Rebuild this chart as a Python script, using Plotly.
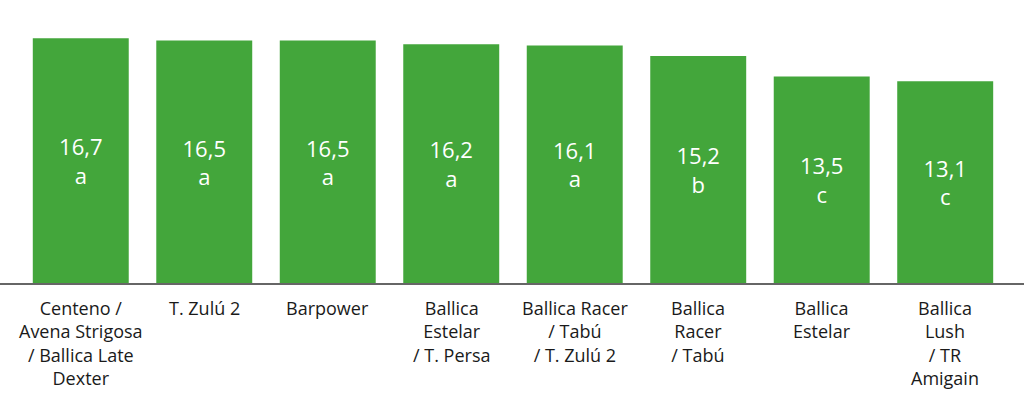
import plotly.graph_objects as go

categories = [
    "Centeno /<br>Avena Strigosa<br>/ Ballica Late<br>Dexter",
    "T. Zulú 2",
    "Barpower",
    "Ballica<br>Estelar<br>/ T. Persa",
    "Ballica Racer<br>/ Tabú<br>/ T. Zulú 2",
    "Ballica<br>Racer<br>/ Tabú",
    "Ballica<br>Estelar",
    "Ballica<br>Lush<br>/ TR<br>Amigain",
]
values = [16.7, 16.5, 16.5, 16.2, 16.1, 15.2, 13.5, 13.1]
letters = ["a", "a", "a", "a", "a", "b", "c", "c"]

BASE = -3.8
TOP = 19.9
GREEN = "#43A63B"
FONT = "Open Sans"

xs = list(range(len(categories)))
texts = [f"{v:.1f}".replace(".", ",") + "<br>" + l for v, l in zip(values, letters)]

fig = go.Figure()
fig.add_trace(go.Bar(
    x=xs,
    y=[v - BASE for v in values],
    base=BASE,
    marker=dict(color=GREEN, line=dict(width=0)),
    text=texts,
    textposition="inside",
    insidetextanchor="middle",
    textfont=dict(family=FONT, size=22, color="white"),
    hoverinfo="skip",
))

annotations = []
for i, lab in enumerate(categories):
    annotations.append(dict(
        x=i, y=0, xref="x", yref="paper",
        text=lab, showarrow=False,
        xanchor="center", yanchor="top", align="center",
        borderpad=0, yshift=-12,
        font=dict(family=FONT, size=18, color="#1a1a1a"),
    ))

fig.update_layout(
    width=1024, height=398,
    margin=dict(l=0, r=0, t=0, b=115),
    paper_bgcolor="white", plot_bgcolor="white",
    bargap=0.223,
    showlegend=False,
    annotations=annotations,
    xaxis=dict(range=[-0.654, 7.638], showticklabels=False, showgrid=False,
               zeroline=False, showline=True, linecolor="#666666", linewidth=2,
               ticks=""),
    yaxis=dict(range=[BASE, TOP], visible=False, showgrid=False, zeroline=False),
)

fig.write_html("out.html")
